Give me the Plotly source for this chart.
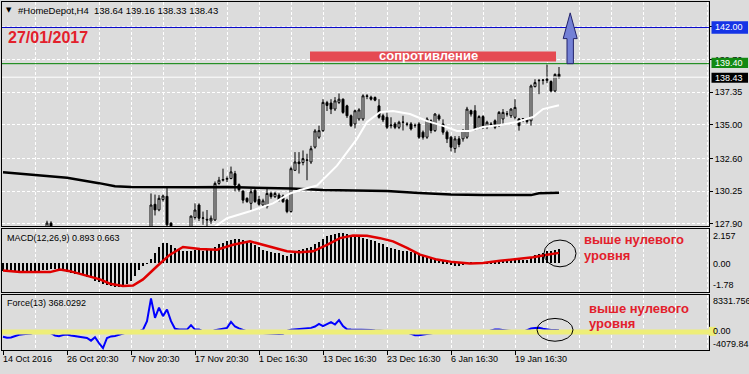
import plotly.graph_objects as go

W, H = 749, 374

# ---------------- data ----------------
opens = [126.8, 127.1, 127.2, 126.9, 126.5, 126.8, 127.2, 127.0, 127.3, 127.4,
         127.2, 127.5, 127.95, 127.6, 127.0, 126.5, 126.6, 126.1, 125.8, 125.6,
         125.1, 124.8, 124.3, 123.5, 122.7, 121.3, 120.5, 121.0, 121.3, 121.6,
         121.5, 122.0, 122.4, 122.6, 123.1, 123.7, 124.3, 124.8, 129.3, 128.9,
         129.64, 129.87, 127.95, 127.6, 127.0, 127.3, 127.1, 127.5, 128.35, 129.25,
         128.3, 128.22, 128.11, 128.18, 130.8, 131.03, 131.1, 131.15, 131.5, 130.7,
         130.25, 129.73, 129.37, 130.3, 129.65, 129.25, 129.14, 130.08, 129.85, 129.96,
         129.9, 129.61, 128.78, 131.74, 132.34, 132.3, 132.46, 132.34, 133.41, 134.12,
         134.59, 136.6, 136.57, 136.14, 136.62, 136.85, 136.37, 135.66, 135.07, 135.43,
         135.43, 137.09, 136.99, 136.97, 136.37, 135.66, 135.55, 135.0, 135.07, 134.83,
         135.19, 135.07, 135.07, 134.95, 135.07, 134.48, 134.12, 135.3, 134.59, 135.66,
         135.07, 134.48, 134.12, 133.3, 134.0, 134.0, 134.12, 136.02, 136.02, 134.8,
         135.6, 134.83, 135.07, 135.3, 134.95, 135.43, 135.78, 135.66, 135.55, 135.43,
         135.43, 135.43, 135.3, 137.75, 138.2, 138.2, 138.2, 138.12, 137.44, 138.64]
highs = [127.4, 127.5, 127.5, 127.2, 127.0, 127.3, 127.5, 127.4, 127.6, 127.6,
         127.6, 128.12, 128.08, 127.65, 127.2, 126.9, 126.8, 126.5, 126.2, 125.9,
         125.5, 125.1, 124.6, 123.8, 123.0, 121.6, 121.3, 121.5, 121.8, 122.0,
         122.2, 122.6, 122.8, 123.3, 123.9, 124.5, 125.0, 130.08, 130.0, 129.96,
         130.0, 130.56, 128.0, 127.65, 127.5, 127.6, 127.6, 128.5, 129.37, 129.37,
         128.78, 128.89, 128.5, 130.94, 131.27, 131.86, 131.3, 132.01, 131.7, 130.8,
         130.3, 129.8, 130.4, 130.4, 129.9, 129.7, 130.44, 130.2, 130.2, 130.1,
         130.0, 129.7, 132.0, 133.05, 133.05, 133.17, 132.93, 133.5, 134.7, 134.95,
         136.85, 136.73, 136.85, 137.0, 137.26, 136.9, 136.45, 135.75, 136.1, 136.2,
         137.2, 137.21, 137.1, 137.05, 136.85, 135.8, 135.9, 135.55, 135.2, 135.3,
         135.66, 135.2, 135.2, 135.1, 135.2, 134.6, 135.55, 135.4, 135.85, 135.8,
         135.4, 134.6, 134.2, 134.2, 134.2, 134.7, 136.3, 136.1, 136.42, 135.7,
         135.7, 135.3, 135.2, 135.4, 136.0, 136.14, 136.0, 136.2, 136.85, 135.5,
         135.5, 135.5, 137.9, 138.28, 138.3, 138.3, 139.34, 138.2, 138.7, 139.16]
lows = [126.4, 126.8, 126.7, 126.3, 126.2, 126.6, 126.9, 126.7, 127.0, 127.0,
        127.0, 127.3, 127.5, 126.9, 126.3, 126.0, 125.9, 125.6, 125.3, 124.9,
        124.6, 124.0, 123.2, 122.4, 121.0, 120.2, 120.2, 120.6, 120.9, 121.2,
        121.3, 121.8, 122.0, 122.4, 122.9, 123.5, 124.0, 124.6, 128.5, 128.8,
        129.5, 127.6, 127.2, 126.8, 126.6, 126.9, 126.8, 127.3, 128.2, 128.1,
        127.83, 127.73, 127.9, 128.1, 130.7, 130.94, 130.9, 131.1, 130.23, 130.2,
        129.37, 129.4, 128.78, 129.4, 129.2, 129.1, 129.0, 129.7, 129.75, 129.5,
        129.4, 128.66, 128.7, 131.7, 131.51, 132.1, 131.03, 132.2, 133.3, 134.0,
        134.5, 136.0, 135.78, 136.0, 136.5, 135.8, 135.5, 134.85, 134.75, 135.3,
        135.3, 136.85, 136.75, 136.7, 135.45, 135.2, 134.7, 134.75, 134.7, 134.7,
        134.6, 134.9, 134.6, 134.8, 134.0, 133.95, 134.0, 134.4, 134.5, 135.3,
        134.3, 133.7, 133.1, 133.0, 133.4, 133.8, 134.0, 135.6, 134.6, 134.7,
        134.7, 134.7, 134.85, 134.7, 134.85, 135.0, 135.6, 135.5, 135.4, 134.59,
        135.2, 135.1, 134.95, 137.7, 137.21, 137.9, 138.0, 137.35, 137.35, 138.33]
closes = [127.1, 127.2, 126.9, 126.5, 126.8, 127.2, 127.0, 127.3, 127.4, 127.2,
          127.5, 127.95, 127.6, 127.0, 126.5, 126.6, 126.1, 125.8, 125.6, 125.1,
          124.8, 124.3, 123.5, 122.7, 121.3, 120.5, 121.0, 121.3, 121.6, 121.5,
          122.0, 122.4, 122.6, 123.1, 123.7, 124.3, 124.8, 129.25, 128.9, 129.73,
          129.9, 127.83, 127.75, 127.0, 127.3, 127.1, 127.5, 128.45, 128.89, 128.3,
          128.32, 128.18, 128.3, 130.8, 131.03, 131.08, 131.15, 131.63, 130.68, 130.35,
          129.6, 129.5, 130.2, 129.5, 129.3, 129.55, 130.08, 129.85, 130.08, 129.61,
          129.49, 128.78, 131.86, 132.34, 132.22, 132.58, 132.48, 133.29, 134.57, 134.59,
          136.62, 136.4, 136.14, 136.73, 136.85, 135.9, 135.66, 134.95, 136.02, 136.08,
          137.09, 137.05, 136.85, 136.78, 135.55, 135.36, 134.83, 134.95, 134.83, 135.19,
          135.2, 135.05, 134.71, 134.97, 134.12, 134.12, 135.43, 134.6, 135.78, 135.43,
          134.48, 134.0, 133.4, 134.0, 133.6, 134.6, 136.14, 135.78, 134.71, 135.6,
          134.85, 135.19, 135.0, 134.83, 135.9, 135.9, 135.8, 136.14, 136.26, 134.95,
          135.45, 135.25, 137.8, 138.04, 138.18, 138.22, 138.28, 137.44, 138.63, 138.43]

# slow (black) and fast (white) moving averages, vertices
ma_slow_x = [0, 8, 16, 24, 28, 32, 40, 48, 56, 64, 72, 80, 88, 96, 104, 112, 120, 128, 132, 134, 139]
ma_slow_y = [131.6, 131.42, 131.2, 130.82, 130.6, 130.54, 130.52, 130.52, 130.54, 130.5, 130.44,
             130.32, 130.28, 130.25, 130.12, 130.0, 129.96, 129.96, 129.96, 130.1, 130.13]
ma_fast_x = [53, 56, 61.75, 67.5, 71.75, 74.25, 78.5, 83.5, 88.5, 91, 94.25, 97.5, 101.75, 106,
             110, 113.5, 116.75, 120, 124.25, 128.5, 132.5, 135, 139]
ma_fast_y = [127.7, 128.3, 128.8, 129.37, 130.08, 130.33, 130.65, 132.08, 134.0, 135.21, 135.92,
             136.0, 135.78, 135.28, 134.93, 134.57, 134.57, 134.86, 135.0, 135.21, 135.57, 136.14, 136.42]

macd_main = [-0.5, -0.52, -0.55, -0.55,
             -0.55, -0.55, -0.55, -0.55, -0.5, -0.5, -0.45, -0.4, -0.35, -0.35, -0.4,
             -0.5, -0.55, -0.6, -0.65, -0.7, -0.75,
             -0.85, -0.95, -1.1, -1.2, -1.3, -1.4, -1.45, -1.5, -1.5, -1.45, -1.3, -1.1,
             -0.8, -0.4, -0.15, -0.02,
             0.25, 0.65, 1.05, 1.25, 1.28, 1.15, 0.95, 0.85,
             0.8, 0.78, 0.8, 0.82, 0.85, 0.8,
             0.85, 0.9, 1.05, 1.2, 1.3, 1.4,
             1.45, 1.5, 1.5, 1.45, 1.4,
             1.25, 1.15,
             1.0, 0.85, 0.75, 0.7, 0.65, 0.62,
             0.55, 0.45,
             0.6, 0.75, 0.85, 0.9, 0.95, 1.05,
             1.2, 1.35, 1.55,
             1.7, 1.8, 1.85, 1.9, 1.9,
             1.85, 1.8, 1.7, 1.65,
             1.6, 1.5, 1.45,
             1.4, 1.3, 1.2, 1.05, 0.95,
             0.9, 0.85, 0.8, 0.75,
             0.7, 0.65, 0.55,
             0.45, 0.4, 0.35, 0.3,
             0.2, 0.12, 0.02, -0.08, -0.15, -0.15, -0.12, -0.02, 0.02, 0.0, 0.0, 0.02, 0.04, 0.05, 0.06, 0.08,
             0.15, 0.18, 0.2, 0.25, 0.2, 0.2, 0.2, 0.35,
             0.5, 0.6, 0.65,
             0.75, 0.8, 0.85, 0.893]
macd_sig_x = [0, 4.25, 11.75, 14.25, 16.75, 20, 24.25, 26.75, 30, 32.5, 35, 38.5, 41.75, 45, 49.25,
              53.5, 57.5, 61.75, 65, 68.5, 71, 74.25, 77.5, 81, 84.25, 87.5, 91, 94.25, 97.5, 101,
              104.25, 108.5, 112.5, 116.75, 120, 124.25, 128.5, 132.5, 136, 139]
macd_sig_y = [-0.45, -0.55, -0.55, -0.39, -0.49, -0.7, -1.01, -1.28, -1.42, -1.39, -1.01, -0.18, 0.55,
              1.03, 0.91, 0.86, 1.17, 1.39, 1.17, 0.97, 0.76, 0.7, 0.76, 1.17, 1.59, 1.76, 1.74, 1.59,
              1.39, 0.97, 0.55, 0.24, 0.08, -0.01, 0.03, 0.16, 0.28, 0.39, 0.55, 0.663]

force_vals = [-1100, -1300, -1250, -900, -650, -500, -420, -380, -100, 0,
              50, 0, -300, -800, -950, -700, -600, -800, -970, -1000,
              -1150, -1350, -1950, -1200, -2500, -3600, -1350, -1000, -900, -600,
              -450, -100, 0, 0, 100, 500, 2400, 7500, 3150, 5400,
              3530, 5000, 2400, 700, 520, 520, 520, 1500, 520, 520,
              100, 0, 0, 400, 600, 700, 900, 2250, 1200, 800,
              500, 100, 0, 0, -100, -220, -300, -400, -450, -450,
              -400, 200, 500, 600, 750, 800, 850, 900, 1200, 1800,
              1300, 1700, 2200, 1650, 2630, 1300, 600, 520, 520, 520,
              500, 450, 400, 300, 250, 200, 150, 150, 150, 100,
              50, -100, -450, -750, -750, -600, -400, -220, 0, 0,
              0, -220, -220, -220, -220, -220, 0, 0, 0, 0,
              0, 0, 300, 520, 520, 450, 370, 200, 0, 0,
              0, 400, 740, 850, 900, 700, 520, 450, 400, 368]

date_ticks = [0, 16, 32, 48, 64, 80, 96, 112, 128]
date_labels = ["14 Oct 2016", "26 Oct 20:30", "7 Nov 20:30", "17 Nov 20:30", "1 Dec 16:30",
               "13 Dec 16:30", "23 Dec 16:30", "6 Jan 16:30", "19 Jan 16:30"]
price_ticks = [127.90, 130.25, 132.60, 135.00, 137.35, 139.70, 142.05]
price_labels = ["127.90", "130.25", "132.60", "135.00", "137.35", "139.70", ""]

level_target = 142.00
level_resist = 139.40
bid_price = 138.43
title_text = "#HomeDepot,H4  138.64 139.16 138.33 138.43"

# ---------------- styling helpers ----------------
BG = "#dcdcdc"
FONT = "Liberation Sans, Arial"
FS = 9
GD = "3px,2px"
RED = "#e3202b"


def px(x):
    return x / W


def py(y):
    return 1 - y / H


XD = [px(2), px(709)]
XR = [-0.25, 176.5]
YD1 = [py(228), py(2)]
YD2 = [py(294), py(231)]
YD3 = [py(353), py(297)]

idx = list(range(len(closes)))

fig = go.Figure()

fig.add_trace(go.Candlestick(
    x=idx, open=opens, high=highs, low=lows, close=closes,
    increasing=dict(line=dict(color="black", width=1), fillcolor="white"),
    decreasing=dict(line=dict(color="black", width=1), fillcolor="black"),
    whiskerwidth=0, xaxis="x", yaxis="y", hoverinfo="skip", showlegend=False))
fig.add_trace(go.Scatter(x=ma_slow_x, y=ma_slow_y, mode="lines",
                         line=dict(color="black", width=2.5), xaxis="x", yaxis="y"))
fig.add_trace(go.Scatter(x=ma_fast_x, y=ma_fast_y, mode="lines",
                         line=dict(color="white", width=2), xaxis="x", yaxis="y"))

fig.add_trace(go.Bar(x=idx, y=macd_main, width=0.3, marker=dict(color="black", line=dict(width=0)),
                     xaxis="x2", yaxis="y2"))
fig.add_trace(go.Scatter(x=macd_sig_x, y=macd_sig_y, mode="lines",
                         line=dict(color="#e00000", width=2.5), xaxis="x2", yaxis="y2"))

fig.add_trace(go.Scatter(x=idx, y=force_vals, mode="lines",
                         line=dict(color="#0000ff", width=2), xaxis="x3", yaxis="y3"))
fig.add_trace(go.Scatter(x=[XR[0], XR[1]], y=[0, 0], mode="lines",
                         line=dict(color="#eeee78", width=5), xaxis="x3", yaxis="y3"))

axis_line = dict(showline=True, mirror=True, linecolor="black", linewidth=1, zeroline=False)
xcommon = dict(domain=XD, range=XR, showticklabels=False, showgrid=True,
               gridcolor="white", griddash=GD, gridwidth=1, **axis_line)

fig.update_layout(
    width=W, height=H, margin=dict(l=0, r=0, t=0, b=0),
    paper_bgcolor=BG, plot_bgcolor=BG, showlegend=False, bargap=0,
    font=dict(family=FONT, size=FS, color="black"),
    xaxis=dict(anchor="y", tickmode="linear", tick0=0, dtick=8, ticks="",
               rangeslider=dict(visible=False), **xcommon),
    yaxis=dict(domain=YD1, range=[127.73, 143.83], anchor="x", side="right",
               tickmode="array", tickvals=price_ticks, ticktext=price_labels,
               ticks="outside", ticklen=3, tickcolor="black", tickfont=dict(size=FS),
               showgrid=True, gridcolor="white", griddash=GD, **axis_line),
    xaxis2=dict(anchor="y2", tickmode="linear", tick0=0, dtick=8, ticks="", **xcommon),
    yaxis2=dict(domain=YD2, range=[-1.78, 2.157], anchor="x2", side="right",
                showticklabels=False, ticks="", showgrid=False, **axis_line),
    xaxis3=dict(anchor="y3", tickmode="array", tickvals=date_ticks, ticks="outside",
                ticklen=4, tickcolor="black",
                minor=dict(tickmode="linear", tick0=0, dtick=8, showgrid=True,
                           gridcolor="white", griddash=GD, ticks=""),
                **xcommon),
    yaxis3=dict(domain=YD3, range=[-4079.84, 8331.756], anchor="x3", side="right",
                showticklabels=False, ticks="", showgrid=False, **axis_line),
)

shapes = []
# horizontal level lines
shapes.append(dict(type="line", xref="paper", yref="y", x0=XD[0], x1=XD[1],
                   y0=level_target, y1=level_target, line=dict(color="#0000c8", width=1)))
shapes.append(dict(type="line", xref="paper", yref="y", x0=XD[0], x1=XD[1],
                   y0=level_resist, y1=level_resist, line=dict(color="#008000", width=1)))
shapes.append(dict(type="line", xref="paper", yref="y", x0=XD[0], x1=XD[1],
                   y0=bid_price, y1=bid_price, line=dict(color="white", width=1)))
# resistance label box
shapes.append(dict(type="rect", xref="x", yref="y", x0=76.75, x1=138.25, y0=139.55, y1=140.27,
                   fillcolor="#e54a52", line=dict(width=0)))
# up arrow
ax, ash, ahd, atip, abase = 141.8, 0.8, 1.75, 143.05, 141.2
arrow_path = (f"M {ax-ash},{level_resist} L {ax-ash},{abase} L {ax-ahd},{abase} L {ax},{atip} "
              f"L {ax+ahd},{abase} L {ax+ash},{abase} L {ax+ash},{level_resist} Z")
shapes.append(dict(type="path", xref="x", yref="y", path=arrow_path,
                   fillcolor="#7481d6", line=dict(color="#23236b", width=1)))
# price label boxes on the right axis
for y0, y1, col in [(21.5, 34, "#1434e6"), (58.3, 68.5, "#128a12"), (73.3, 83.3, "black")]:
    shapes.append(dict(type="rect", xref="paper", yref="paper", x0=px(711.5), x1=px(748),
                       y0=py(y1), y1=py(y0), fillcolor=col, line=dict(width=0)))
shapes.append(dict(type="rect", xref="paper", yref="paper", x0=px(709), x1=px(716),
                   y0=py(338.5), y1=py(329.5), fillcolor="#eeee78", line=dict(width=0)))
# ellipses
shapes.append(dict(type="circle", xref="paper", yref="paper", x0=px(544), x1=px(576),
                   y0=py(269), y1=py(242), line=dict(color="black", width=1)))
shapes.append(dict(type="circle", xref="paper", yref="paper", x0=px(537), x1=px(573),
                   y0=py(344), y1=py(321), line=dict(color="black", width=1)))
fig.update_layout(shapes=shapes)

ann = []


def text(x, y, s, size=FS, color="black", anchor="left", bold=False, fam=FONT):
    ann.append(dict(xref="paper", yref="paper", x=px(x), y=py(y), text=("<b>%s</b>" % s) if bold else s,
                    showarrow=False, xanchor=anchor, yanchor="middle",
                    font=dict(size=size, color=color, family=fam), borderpad=0))


text(5, 10, "▼", size=7, fam="DejaVu Sans")
text(17, 10.5, title_text, size=9.5)
text(7, 37.8, "27/01/2017", size=16, color=RED, bold=True, fam="Liberation Sans")
ann.append(dict(xref="x", yref="y", x=106.25, y=140.0, text="<b>сопротивление</b>", showarrow=False,
                xanchor="center", yanchor="middle",
                font=dict(size=13, color="white", family="Liberation Sans")))
text(714, 27.7, "142.00", color="white")
text(714, 63.3, "139.40", color="white")
text(714, 78.3, "138.43", color="white")

text(6, 240, "MACD(12,26,9) 0.893 0.663")
text(6, 305, "Force(13) 368.0292")

text(712, 237.5, "2.157")
text(712, 266, "0.00")
text(712, 287, "-1.78")
text(712, 303, "8331.756")
text(712, 334, "0.00")
text(712, 346.5, "-4079.84")

for lbl in [(583, 241.5, "выше нулевого"), (583, 257.5, "уровня"),
            (588, 310.5, "выше нулевого"), (588, 326.5, "уровня")]:
    text(lbl[0], lbl[1], lbl[2], size=13, color=RED, bold=True, fam="Liberation Sans")

for t, lab in zip(date_ticks, date_labels):
    ann.append(dict(xref="x3", yref="paper", x=t - 0.25, y=py(362), text=lab, showarrow=False,
                    xanchor="left", yanchor="middle", borderpad=0,
                    font=dict(size=FS, family=FONT, color="black")))

fig.update_layout(annotations=ann)

fig.write_html("out.html")
